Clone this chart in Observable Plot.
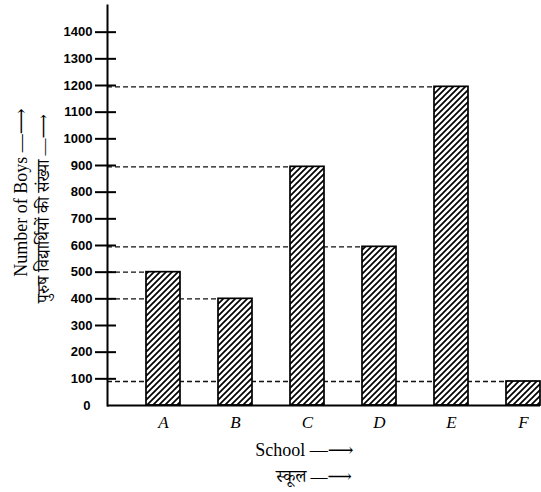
<!DOCTYPE html>
<html>
<head>
<meta charset="utf-8">
<script src="https://cdn.jsdelivr.net/npm/d3@7"></script>
<script src="https://cdn.jsdelivr.net/npm/@observablehq/plot@0.6"></script>
<style>
  html, body { margin: 0; padding: 0; background: #ffffff; }
  #chart svg { display: block; }
</style>
</head>
<body>
<div id="chart"></div>
<script>
const schools = ["A", "B", "C", "D", "E", "F"];
const boys = [500, 400, 895, 595, 1195, 90];
const yTicks = [100, 200, 300, 400, 500, 600, 700, 800, 900, 1000, 1100, 1200, 1300, 1400];
const yZero = [0];
const yLabelEn = "Number of Boys —⟶";
const yLabelHi = "पुरुष विद्यार्थियों की संख्या —⟶";
const xLabelEn = "School —⟶";
const xLabelHi = "स्कूल —⟶";

const data = schools.map((s, i) => ({ school: s, boys: boys[i] }));
const serifFont = "'Liberation Serif', 'DejaVu Serif', serif";
const hindiFont = "'Liberation Serif', 'DejaVu Serif', 'Noto Serif Devanagari', 'Noto Sans Devanagari', 'Lohit Devanagari', FreeSerif, serif";
const tickFont = "'Liberation Sans', Arial, sans-serif";

const chart = Plot.plot({
  width: 541,
  height: 492,
  marginLeft: 107,
  marginRight: 1,
  marginTop: 5,
  marginBottom: 87,
  style: { background: "#ffffff", color: "#000" },
  x: { domain: schools, range: [146, 540], paddingInner: 0.528, paddingOuter: 0, label: null, axis: null },
  y: { domain: [0, 1500], label: null, axis: null },
  marks: [
    Plot.ruleY(data, { y: "boys", x1: null, x2: "school", stroke: "#111", strokeWidth: 1.3, strokeDasharray: "5,3" }),
    Plot.barY(data, { x: "school", y: "boys", fill: "white" }),
    Plot.barY(data, { x: "school", y: "boys", fill: "url(#hatch)", stroke: "#000", strokeWidth: 1.7 }),
    Plot.frame({ anchor: "left", stroke: "#000", strokeWidth: 2 }),
    Plot.ruleY([0], { stroke: "#000", strokeWidth: 2 }),
    Plot.axisY(yTicks, { tickSize: 12, tickPadding: 3, fontSize: 13, fontWeight: "bold", fontFamily: tickFont, tickFormat: d => String(d), strokeWidth: 2, label: null }),
    Plot.axisY(yZero, { tickSize: 0, tickPadding: 17, fontSize: 13, fontWeight: "bold", fontFamily: tickFont, tickFormat: d => String(d), label: null }),
    Plot.tickY(yTicks, { y: d => d, insetRight: 424, stroke: "#000", strokeWidth: 2 }),
    Plot.axisX({ tickSize: 0, tickPadding: 10, fontSize: 17, fontStyle: "italic", fontFamily: serifFont, label: null }),
    Plot.text([yLabelEn], { text: d => d, frameAnchor: "left", textAnchor: "middle", rotate: -90, dx: -86, dy: -13, fontSize: 18, fontFamily: serifFont }),
    Plot.text([yLabelHi], { text: d => d, frameAnchor: "left", textAnchor: "middle", rotate: -90, dx: -64, dy: 3, fontSize: 17, fontFamily: hindiFont }),
    Plot.text([xLabelEn], { text: d => d, frameAnchor: "bottom", dx: -19.5, dy: 50, fontSize: 18, fontFamily: serifFont }),
    Plot.text([xLabelHi], { text: d => d, frameAnchor: "bottom", dx: -10, dy: 76, fontSize: 17, fontFamily: hindiFont })
  ]
});

d3.select(chart).insert("defs", ":first-child").html(
  '<pattern id="hatch" patternUnits="userSpaceOnUse" width="6" height="6">' +
  '<rect width="6" height="6" fill="white"/>' +
  '<path d="M-1,1 l2,-2 M0,6 l6,-6 M5,7 l2,-2" stroke="#000" stroke-width="1.7"/>' +
  '</pattern>'
);

document.getElementById("chart").appendChild(chart);
</script>
</body>
</html>
